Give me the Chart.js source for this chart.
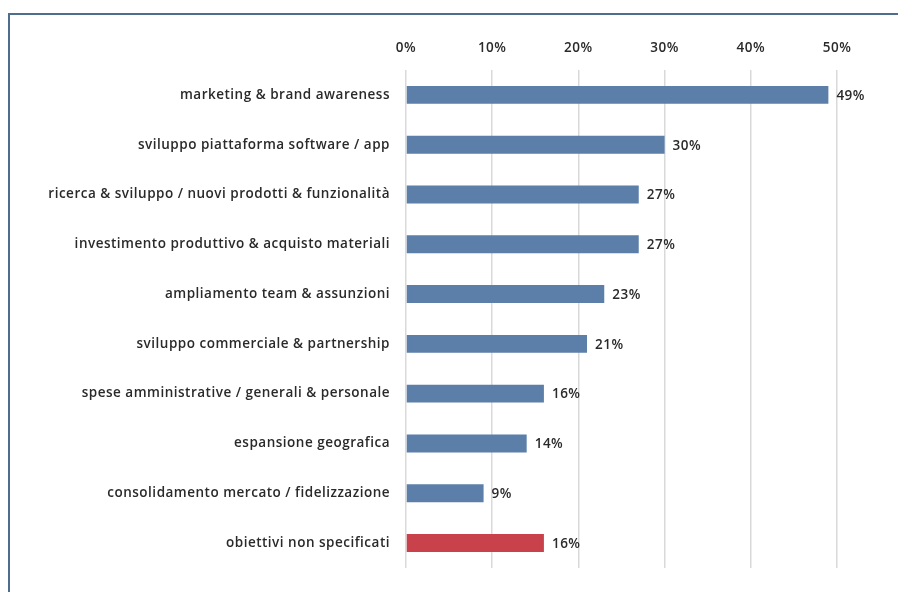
<!DOCTYPE html>
<html>
<head>
<meta charset="utf-8">
<script src="https://cdn.jsdelivr.net/npm/chart.js@4"></script>
<style>
  html, body { margin: 0; padding: 0; background: #fff; overflow: hidden; }
  canvas { display: block; }
</style>
</head>
<body>
<canvas id="goalsChart" width="898" height="592"></canvas>
<script>
// use of funds, share of companies per objective
const categories = [
  'marketing & brand awareness',
  'sviluppo piattaforma software / app',
  'ricerca & sviluppo / nuovi prodotti & funzionalità',
  'investimento produttivo & acquisto materiali',
  'ampliamento team & assunzioni',
  'sviluppo commerciale & partnership',
  'spese amministrative / generali & personale',
  'espansione geografica',
  'consolidamento mercato / fidelizzazione',
  'obiettivi non specificati'
];
const shares = [49, 30, 27, 27, 23, 21, 16, 14, 9, 16];
const barColors = ['#5b7fa9', '#5b7fa9', '#5b7fa9', '#5b7fa9', '#5b7fa9',
                   '#5b7fa9', '#5b7fa9', '#5b7fa9', '#5b7fa9', '#c9424b'];
const xTicks = [0, 10, 20, 30, 40, 50];

const fontFamily = '"Open Sans", Lato, sans-serif';
const textColor = '#2a2a2a';
const labelFont = { family: fontFamily, size: 13.5, weight: '600' };

// frame lines along the left and top edges, plus a little letter spacing for all text
const frame = {
  id: 'frame',
  beforeDraw(chart) {
    const ctx = chart.ctx;
    ctx.save();
    ctx.strokeStyle = '#4f6e8e';
    ctx.lineWidth = 2;
    ctx.beginPath();
    ctx.moveTo(9, chart.height);
    ctx.lineTo(9, 14);
    ctx.lineTo(chart.width, 14);
    ctx.stroke();
    ctx.restore();
    ctx.letterSpacing = '0.5px';
  }
};

// value label just past the end of each bar
const valueLabels = {
  id: 'valueLabels',
  afterDatasetsDraw(chart) {
    const ctx = chart.ctx;
    const meta = chart.getDatasetMeta(0);
    ctx.save();
    ctx.font = '600 13.5px ' + fontFamily;
    ctx.fillStyle = textColor;
    ctx.textAlign = 'left';
    ctx.textBaseline = 'middle';
    meta.data.forEach((bar, i) => {
      ctx.fillText(shares[i] + '%', bar.x + 8, bar.y + 1);
    });
    ctx.restore();
  }
};

new Chart(document.getElementById('goalsChart'), {
  type: 'bar',
  data: {
    labels: categories,
    datasets: [{
      data: shares,
      backgroundColor: barColors,
      borderWidth: 0,
      barPercentage: 0.72,
      categoryPercentage: 0.5
    }]
  },
  options: {
    indexAxis: 'y',
    responsive: false,
    animation: false,
    layout: { padding: { left: 0, right: 61, top: 20, bottom: 22 } },
    plugins: { legend: { display: false }, tooltip: { enabled: false } },
    scales: {
      x: {
        position: 'top',
        min: 0,
        max: 50,
        afterBuildTicks(scale) { scale.ticks = xTicks.map(v => ({ value: v })); },
        afterFit(scale) { scale.height = 50; },
        grid: { color: '#d9d9d9', lineWidth: 1.5, drawTicks: false },
        border: { display: false },
        ticks: {
          padding: 14,
          color: textColor,
          font: labelFont,
          callback: v => v + '%'
        }
      },
      y: {
        afterFit(scale) { scale.width = 406; },
        grid: { display: false, drawTicks: false },
        border: { display: false },
        ticks: {
          padding: 16,
          color: textColor,
          font: labelFont
        }
      }
    }
  },
  plugins: [frame, valueLabels]
});
</script>
</body>
</html>
